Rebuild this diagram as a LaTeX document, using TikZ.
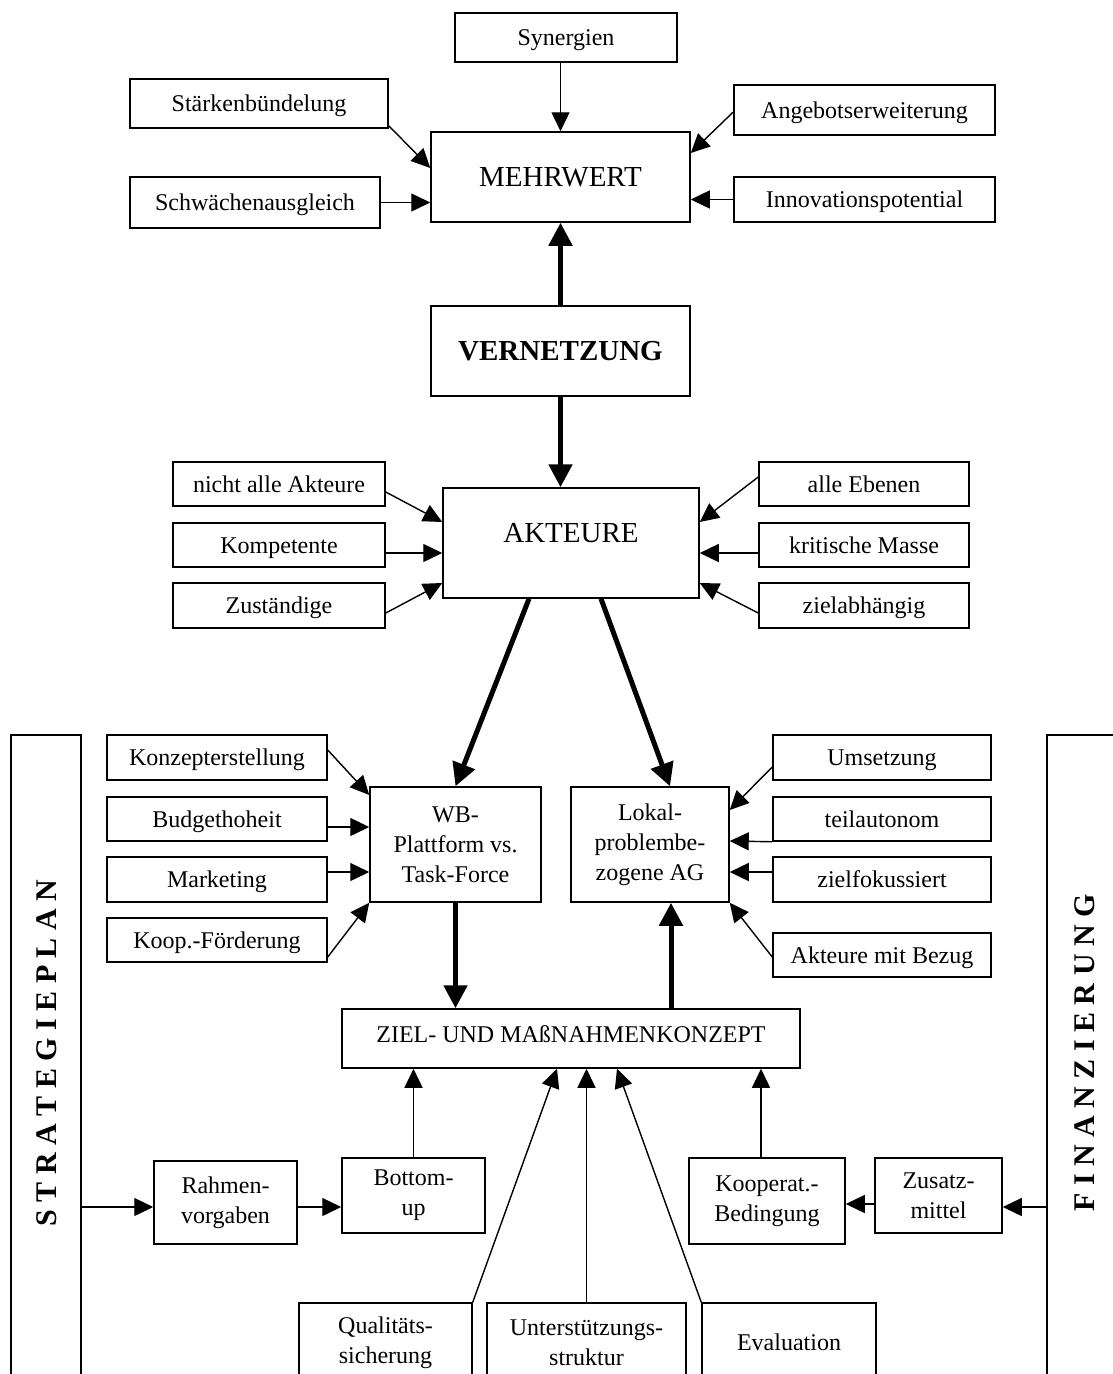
\documentclass[tikz,border=0pt]{standalone}
\usepackage{fontspec}
\setmainfont{Liberation Serif}
\usetikzlibrary{arrows.meta}
\newcommand\fsm{\fontsize{24}{30}\selectfont}
\newcommand\fbg{\fontsize{29}{34}\selectfont}
\newcommand\fside{\fontsize{30}{36}\selectfont\bfseries}
% \mybox[options]{name}{x1}{y1}{x2}{y2}{text}
\newcommand\mybox[7][]{\node[bx,#1,minimum width={(#5-#3)*1pt},minimum height={(#6-#4)*1pt}] (#2) at ({(#3+#5)/2},{(#4+#6)/2}) {#7};}
\begin{document}
\begin{tikzpicture}[x=1pt,y=-1pt,
  bx/.style={draw, line width=1.5pt, inner sep=0pt, align=center, font=\fsm},
  sl/.style={text height=16pt, text depth=0pt},
  arr/.style={line width=1.4pt, -{Triangle[length=19pt,width=18pt]}},
  tarr/.style={line width=5pt, -{Triangle[length=23pt,width=23pt]}},
  sidelbl/.style={rotate=90, inner sep=0pt, font=\fside}]
\useasboundingbox (0,0) rectangle (1112,1374);
% top group
\mybox[sl]{syn}{455}{13}{677}{62}{Synergien}
\mybox[sl]{staerk}{130}{79}{388}{128}{Stärkenbündelung}
\mybox[sl]{angeb}{734}{85}{995}{135}{Angebotserweiterung}
\mybox[font=\fbg]{mehr}{431}{132}{690}{222}{MEHRWERT}
\mybox[sl]{schw}{130}{177}{380}{228}{Schwächenausgleich}
\mybox[sl]{innov}{734}{177}{995}{222}{Innovationspotential}
\mybox[font=\fbg\bfseries]{vern}{431}{306}{690}{396}{VERNETZUNG}
% actors
\mybox[font=\fbg, text depth=20pt]{akt}{443}{488}{699}{598}{AKTEURE}
\mybox[sl]{nicht}{173}{462}{385}{506}{nicht alle Akteure}
\mybox[sl]{komp}{173}{523}{385}{567}{Kompetente}
\mybox[sl]{zust}{173}{583}{385}{628}{Zuständige}
\mybox[sl]{ebenen}{759}{462}{969}{506}{alle Ebenen}
\mybox[sl]{krit}{759}{523}{969}{567}{kritische Masse}
\mybox[sl]{zielab}{759}{583}{969}{628}{zielabhängig}
% side frames
\mybox{strat}{11}{735}{81}{1395}{}
\node[sidelbl] (stratlbl) at (47,1053) {S T R A T E G I E P L A N};
\mybox{fin}{1047}{735}{1130}{1395}{}
\node[sidelbl] (finlbl) at (1085,1053) {F I N A N Z I E R U N G};
% middle
\mybox[sl]{konz}{107}{735}{327}{780}{Konzepterstellung}
\mybox[sl]{budget}{107}{797}{327}{841}{Budgethoheit}
\mybox[sl]{market}{107}{857}{327}{902}{Marketing}
\mybox[sl]{koopf}{107}{918}{327}{962}{Koop.-Förderung}
\mybox{wb}{370}{787}{541}{902}{WB-\\Plattform vs.\\Task-Force}
\mybox{lokal}{571}{787}{729}{902}{Lokal-\\problembe-\\zogene AG}
\mybox[sl]{umsetz}{773}{735}{991}{780}{Umsetzung}
\mybox[sl]{teil}{773}{797}{991}{841}{teilautonom}
\mybox[sl]{zielf}{773}{857}{991}{902}{zielfokussiert}
\mybox[sl]{bezug}{773}{933}{991}{977}{Akteure mit Bezug}
% lower
\mybox[text depth=9pt]{ziel}{342}{1009}{800}{1068}{ZIEL- UND MAßNAHMENKONZEPT}
\mybox{rahmen}{154}{1161}{297}{1244}{Rahmen-\\vorgaben}
\mybox{bottomup}{342}{1158}{485}{1233}{Bottom-\\up}
\mybox{koop}{689}{1158}{845}{1244}{Kooperat.-\\Bedingung}
\mybox{zusatz}{875}{1158}{1002}{1233}{Zusatz-\\mittel}
\mybox{qual}{299}{1303}{472}{1382}{Qualitäts-\\sicherung}
\mybox{unter}{487}{1303}{686}{1382}{Unterstützungs-\\struktur}
\mybox[sl]{eval}{702}{1303}{876}{1382}{Evaluation}
% connectors top
\draw[arr] (mehr.north |- syn.south) -- (mehr.north);
\draw[arr] ([yshift=3pt]staerk.south east) -- ([yshift=9pt]mehr.west);
\draw[arr] ([yshift=-2pt]angeb.west) -- ([yshift=24pt]mehr.east);
\draw[arr] (schw.east) -- (schw.east -| mehr.west);
\draw[arr] (innov.west) -- (innov.west -| mehr.east);
\draw[tarr] (vern.north) -- (mehr.south);
\draw[tarr] (vern.south) -- (vern.south |- akt.north);
% actors
\draw[arr] ([yshift=-8pt]nicht.east) -- ([yshift=21pt]akt.west);
\draw[arr] ([yshift=-8pt]komp.east) -- ([yshift=-10pt]akt.west);
\draw[arr] ([yshift=-7.5pt]zust.east) -- ([yshift=-40pt]akt.west);
\draw[arr] ([yshift=7pt]ebenen.west) -- ([yshift=21pt]akt.east);
\draw[arr] ([yshift=-8pt]krit.west) -- ([yshift=-10pt]akt.east);
\draw[arr] ([yshift=-7.5pt]zielab.west) -- ([yshift=-40pt]akt.east);
\draw[tarr] ([xshift=-42pt]akt.south) -- (wb.north);
\draw[tarr] ([xshift=30pt]akt.south) -- ([xshift=20pt]lokal.north);
% middle
\draw[arr] ([yshift=7.5pt]konz.east) -- ([yshift=49.5pt]wb.west);
\draw[arr] ([yshift=-8pt]budget.east) -- ([yshift=17.5pt]wb.west);
\draw[arr] ([yshift=7.5pt]market.east) -- ([yshift=-27.5pt]wb.west);
\draw[arr] ([yshift=-17pt]koopf.east) -- (wb.south west);
\draw[arr] ([yshift=-9.5pt]umsetz.west) -- ([yshift=34.5pt]lokal.east);
\draw[arr] (teil.south west) -- ([yshift=3.5pt]lokal.east);
\draw[arr] ([yshift=7.5pt]zielf.west) -- ([yshift=-27.5pt]lokal.east);
\draw[arr] ([yshift=-2pt]bezug.west) -- (lokal.south east);
\draw[tarr] (wb.south) -- (wb.south |- ziel.north);
\draw[tarr] ([xshift=100pt]ziel.north) -- ([xshift=21pt]lokal.south);
% lower
\coordinate (a1) at ([yshift=-4.5pt]rahmen.west);
\draw[arr] (strat.east |- a1) -- (a1);
\draw[arr] ([yshift=-4.5pt]rahmen.east) -- ([yshift=-11.5pt]bottomup.west);
\draw[arr] (bottomup.north) -- (bottomup.north |- ziel.south);
\coordinate (k1) at ([xshift=-6pt]koop.north);
\draw[arr] (k1) -- (k1 |- ziel.south);
\coordinate (z1) at ([yshift=-11.5pt]zusatz.east);
\draw[arr] (fin.west |- z1) -- (z1);
\draw[arr] ([yshift=-8.5pt]zusatz.west) -- ([yshift=-3pt]koop.east);
\draw[arr] (qual.north east) -- ([xshift=-14pt]ziel.south);
\draw[arr] (unter.north) -- (unter.north |- ziel.south);
\draw[arr] (eval.north west) -- ([xshift=46pt]ziel.south);
\end{tikzpicture}
\end{document}
